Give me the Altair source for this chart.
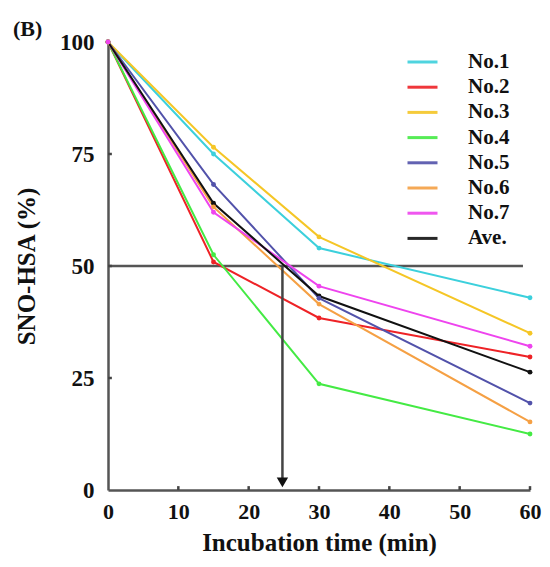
import altair as alt
import pandas as pd

times = [0, 15, 30, 60]
series_names = ["No.1", "No.2", "No.3", "No.4", "No.5", "No.6", "No.7", "Ave."]
no1 = [100, 75.0, 54.0, 42.9]
no2 = [100, 50.9, 38.4, 29.7]
no3 = [100, 76.5, 56.5, 35.0]
no4 = [100, 52.5, 23.7, 12.5]
no5 = [100, 68.2, 42.8, 19.4]
no6 = [100, 63.2, 41.5, 15.2]
no7 = [100, 62.0, 45.5, 32.1]
ave = [100, 64.0, 43.3, 26.3]
colors = ["#3cd0dc", "#ee2226", "#f5c626", "#44ea44", "#5252aa", "#f5a044", "#ee44ee", "#111111"]

half_value = [50]
half_x = [0, 59]
arrow_x = [24.8]
arrow_tip = [1.7]
x_ticks = [0, 10, 20, 30, 40, 50, 60]
y_ticks = [0, 25, 50, 75, 100]
x_minor = [10, 20, 30, 40, 50, 60]
y_minor = [25, 50, 75]

all_series = [no1, no2, no3, no4, no5, no6, no7, ave]
rows = []
for name, vals in zip(series_names, all_series):
    for t, v in zip(times, vals):
        rows.append({"time": t, "value": v, "series": name})
df = pd.DataFrame(rows)

FONT = "Liberation Serif"

xscale = alt.Scale(domain=[0, 60], nice=False, zero=True)
yscale = alt.Scale(domain=[0, 100], nice=False, zero=True)

xaxis = alt.Axis(values=x_ticks, title="Incubation time (min)", grid=False,
                 domainColor="#555555", domainWidth=2.5, ticks=False,
                 labelFont=FONT, labelFontSize=22,
                 labelFontWeight="bold", labelColor="#111111", labelPadding=11,
                 titleFont=FONT, titleFontSize=25, titleFontWeight="bold",
                 titleColor="#111111", titlePadding=8, labelFlush=False)
yaxis = alt.Axis(values=y_ticks, title="SNO-HSA  (%)", grid=False,
                 domainColor="#555555", domainWidth=2.5, ticks=False,
                 labelFont=FONT, labelFontSize=23,
                 labelFontWeight="bold", labelColor="#111111", labelPadding=14,
                 titleFont=FONT, titleFontSize=25, titleFontWeight="bold",
                 titleColor="#111111", titlePadding=20, labelFlush=False)

# horizontal 50% line
hdf = pd.DataFrame({"x": [half_x[0]], "x2": [half_x[1]], "y": half_value})
hline = alt.Chart(hdf).mark_rule(color="#555555", strokeWidth=2.5).encode(
    x=alt.X("x:Q", scale=xscale, axis=xaxis),
    x2="x2:Q",
    y=alt.Y("y:Q", scale=yscale, axis=yaxis),
)

# small inward ticks
xt = pd.DataFrame({"x": x_minor, "y": [0] * len(x_minor)})
xticks = alt.Chart(xt).mark_point(
    shape="M0,0L0,-1", filled=False, stroke="#444444", strokeWidth=2.5, size=60, opacity=1
).encode(x="x:Q", y="y:Q")
yt = pd.DataFrame({"x": [0] * len(y_minor), "y": y_minor})
yticks = alt.Chart(yt).mark_point(
    shape="M0,0L1,0", filled=False, stroke="#444444", strokeWidth=2.5, size=60, opacity=1
).encode(x="x:Q", y="y:Q")

lines = alt.Chart(df).mark_line(
    strokeWidth=2,
    point=alt.OverlayMarkDef(filled=True, size=24),
).encode(
    x=alt.X("time:Q", scale=xscale, axis=xaxis),
    y=alt.Y("value:Q", scale=yscale, axis=yaxis),
    color=alt.Color(
        "series:N",
        scale=alt.Scale(domain=series_names, range=colors),
        sort=series_names,
        legend=alt.Legend(
            title=None, orient="none", legendX=304, legendY=9.5,
            symbolType="M-2,0L2,0", symbolSize=225, symbolStrokeWidth=3,
            labelFont=FONT, labelFontSize=21, labelFontWeight="bold",
            labelColor="#111111", labelOffset=35, rowPadding=3.2,
            symbolOpacity=0.9,
        ),
    ),
    order=alt.Order("series:N"),
)

# arrow
adf = pd.DataFrame({"x": arrow_x, "y": half_value, "y2": arrow_tip})
arrow_line = alt.Chart(adf).mark_rule(color="#444444", strokeWidth=2.5).encode(
    x="x:Q", y="y:Q", y2="y2:Q"
)
arrow_head = alt.Chart(adf).mark_point(
    shape="triangle-down", filled=True, color="#111111", size=130, opacity=1
).encode(x="x:Q", y="y2:Q")

chart = alt.layer(hline, xticks, yticks, lines, arrow_line, arrow_head).properties(
    width=422, height=448,
    title=alt.TitleParams("(B)", anchor="start", frame="group", font=FONT, fontSize=22,
                          fontWeight="bold", color="#111111", dx=-95, dy=14),
    autosize=alt.AutoSizeParams(type="none"),
    padding={"left": 100, "top": 34, "right": 12, "bottom": 69},
).configure_view(stroke=None)

chart.save("out.html", embed_options={"renderer": "svg", "actions": False})
